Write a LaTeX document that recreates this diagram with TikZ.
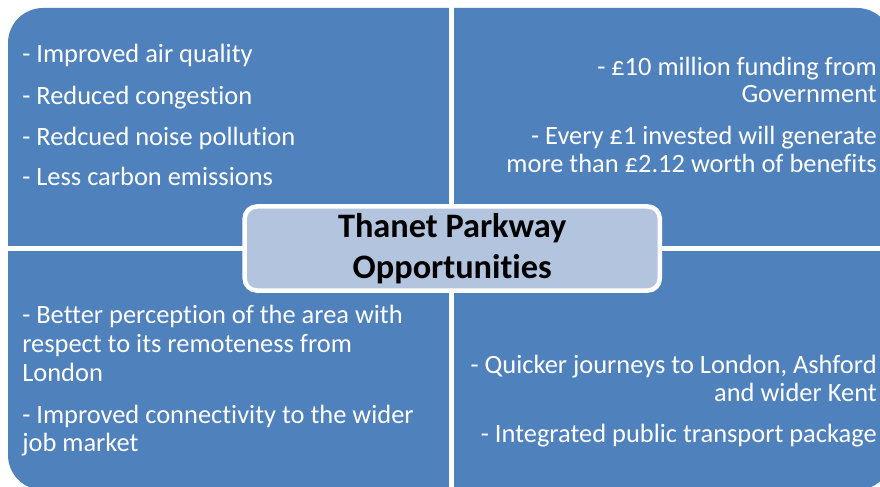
\documentclass[tikz,border=0pt]{standalone}
\usepackage{fontspec}
\setmainfont{Carlito}[Ligatures=NoCommon]
\definecolor{quadblue}{HTML}{4F81BD}
\definecolor{titleblue}{HTML}{B3C4DE}
\begin{document}
\begin{tikzpicture}[x=0.025cm,y=-0.025cm,
        txt/.style={text=white,inner sep=0pt,font=\fontsize{18.8}{22}\selectfont},
        lt/.style={txt,anchor=base west},
        rt/.style={txt,anchor=base east}]
    \useasboundingbox (0,0) rectangle (880,486);
    \clip (0,0) rectangle (880,486);
    % four quadrants
    \fill[quadblue,rounded corners=0.875cm]
        (8,8) rectangle (892,490);
    \draw[white,line width=0.125cm]
        (451,0) -- (451,490);
    \draw[white,line width=0.125cm]
        (0,248.5) -- (892,248.5);
    % top left
    \node[lt] (tl1) at (22,63) {- Improved air quality};
    \node[lt] (tl2) at (22,104) {- Reduced congestion};
    \node[lt] (tl3) at (22,145) {- Redcued noise pollution};
    \node[lt] (tl4) at (22,185) {- Less carbon emissions};
    % top right
    \node[rt] (tr1) at (877,76) {- £10 million funding from};
    \node[rt] (tr2) at (877,103) {Government};
    \node[rt] (tr3) at (877,144) {- Every £1 invested will generate};
    \node[rt] (tr4) at (877,172) {more than £2.12 worth of benefits};
    % bottom left
    \node[lt] (bl1) at (22,323) {- Better perception of the area with};
    \node[lt] (bl2) at (22,352) {respect to its remoteness from};
    \node[lt] (bl3) at (22,381) {London};
    \node[lt] (bl4) at (22,423) {- Improved connectivity to the wider};
    \node[lt] (bl5) at (22,451) {job market};
    % bottom right
    \node[rt] (br1) at (877,373) {- Quicker journeys to London, Ashford};
    \node[rt] (br2) at (877,401) {and wider Kent};
    \node[rt] (br3) at (877,442) {- Integrated public transport package};
    % centre
    \node[fill=titleblue,draw=white,line width=0.1125cm,rounded corners=0.3cm,
        minimum width=10.375cm,minimum height=2.1cm,inner sep=0pt,align=center,
        font=\bfseries\fontsize{24.4}{29}\selectfont] (title) at (452.25,248.5)
        {Thanet Parkway\\Opportunities};
\end{tikzpicture}
\end{document}
